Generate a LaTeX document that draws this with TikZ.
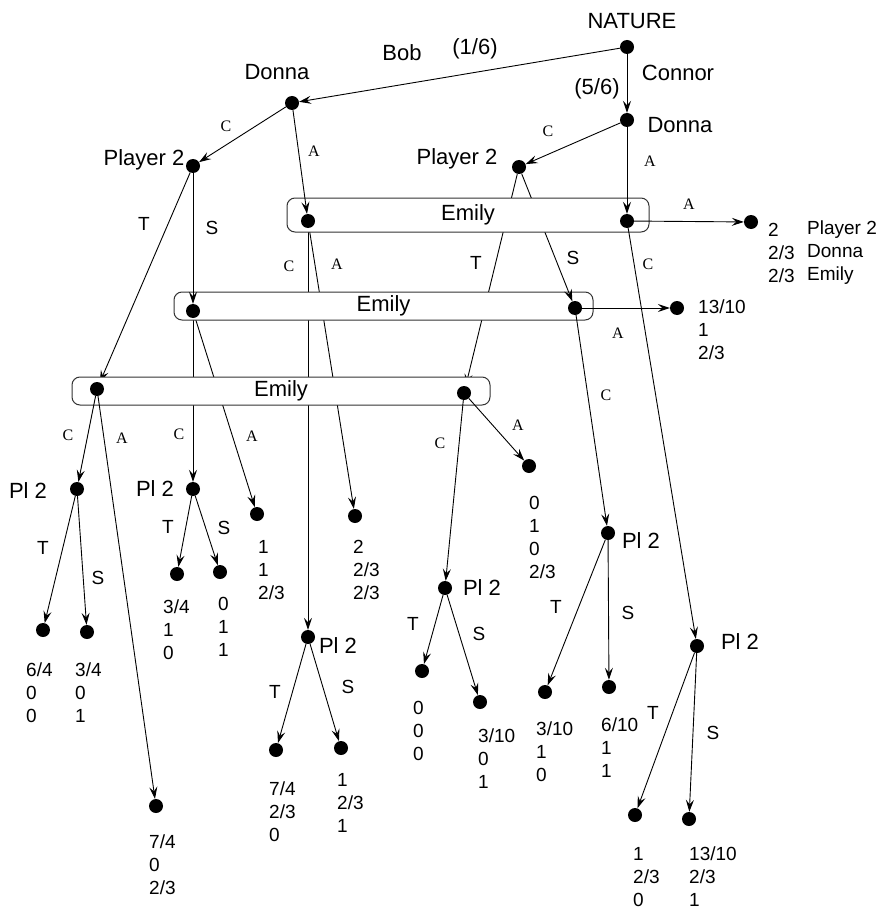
\documentclass[tikz,border=0pt]{standalone}
\usepackage{fontspec}
\setmainfont{Liberation Sans}
\newfontfamily\movefont{Liberation Serif}
\usetikzlibrary{arrows.meta}
\pgfdeclarelayer{low}
\pgfdeclarelayer{boxlow}
\pgfdeclarelayer{cross}
\pgfdeclarelayer{boxtop}
\pgfsetlayers{low,boxlow,cross,boxtop,main}
\tikzset{
  % Every decision point and every end point is the same black dot.
  dot/.style     = {circle, fill=black, inner sep=0pt, minimum size=14pt},
  tip/.style     = {-{Stealth[length=12pt, width=8pt, inset=4.5pt]},
                    line width=0.9pt},
  infoset/.style = {draw=black!80, fill=white, line width=1pt,
                    rounded corners=8pt, inner sep=0pt,
                    font=\fontsize{22}{26}\selectfont},
  who/.style     = {font=\fontsize{22}{26}\selectfont, inner sep=0pt,
                    text height=16pt, text depth=0pt},
  move/.style    = {font=\movefont\fontsize{16}{18}\selectfont, inner sep=0pt,
                    text height=10.5pt, text depth=0pt},
  choice/.style  = {font=\fontsize{19}{23}\selectfont, inner sep=0pt,
                    text height=14pt, text depth=0pt},
  payoff/.style  = {font=\fontsize{19}{23}\selectfont, align=left,
                    anchor=north west, inner sep=0pt},
}

\begin{document}
\begin{tikzpicture}[x=1pt, y=-1pt]
    \useasboundingbox (0,0) rectangle (883,912);

    % decision points
    \node[dot] (nature) at (627,47)  {};
    \node[dot] (donnaB) at (292,103) {};
    \node[dot] (donnaC) at (627,120) {};
    \node[dot] (ptwoB)  at (193,166) {};
    \node[dot] (ptwoC)  at (519,167) {};
    \node[dot] (emTB)   at (308,221) {};
    \node[dot] (emTC)   at (627,221) {};
    \node[dot] (emMB)   at (193,311) {};
    \node[dot] (emMC)   at (575,308) {};
    \node[dot] (emLB)   at (97,389)  {};
    \node[dot] (emLC)   at (464,393) {};
    \node[dot] (plA)    at (77,489)  {};
    \node[dot] (plB)    at (193,489) {};
    \node[dot] (plC)    at (308,637) {};
    \node[dot] (plD)    at (445,588) {};
    \node[dot] (plE)    at (608,533) {};
    \node[dot] (plF)    at (697,646) {};

    % end points
    \node[dot] (zTA)  at (751,222) {};
    \node[dot] (zMA)  at (677,308) {};
    \node[dot] (zTBa) at (355,516) {};
    \node[dot] (zMBa) at (257,514) {};
    \node[dot] (zLBa) at (156,806) {};
    \node[dot] (zLCa) at (529,466) {};
    \node[dot] (zAt)  at (43,630)  {};
    \node[dot] (zAs)  at (87,632)  {};
    \node[dot] (zBt)  at (177,574) {};
    \node[dot] (zBs)  at (220,572) {};
    \node[dot] (zCt)  at (276,750) {};
    \node[dot] (zCs)  at (341,748) {};
    \node[dot] (zDt)  at (422,671) {};
    \node[dot] (zDs)  at (480,702) {};
    \node[dot] (zEt)  at (545,692) {};
    \node[dot] (zEs)  at (609,687) {};
    \node[dot] (zFt)  at (635,815) {};
    \node[dot] (zFs)  at (689,819) {};

    % Emily's information sets hide the branches that only pass through them.
    \begin{pgfonlayer}{low}
        \draw[tip] (emTB)  -- (plC);
        \draw[tip] (emTB)  -- (zTBa);
        \draw[tip] (emMB)  -- (plB);
        \draw[tip] (emMB)  -- (zMBa);
        \draw[tip] (ptwoB) -- (emLB);
        \draw[tip] (ptwoC) -- (emLC);
    \end{pgfonlayer}
    \begin{pgfonlayer}{boxlow}
        \node[infoset, minimum width=418pt, minimum height=28pt]
            (isetL) at (281,391) {Emily};
        \node[infoset, minimum width=419pt, minimum height=28pt]
            (isetM) at (383.5,306) {Emily};
    \end{pgfonlayer}
    \begin{pgfonlayer}{cross}
        \draw[tip] (ptwoC) -- (emMC);
    \end{pgfonlayer}
    \begin{pgfonlayer}{boxtop}
        \node[infoset, minimum width=362pt, minimum height=34pt]
            (isetT) at (468,215) {Emily};
    \end{pgfonlayer}

    \draw[tip] (nature) -- (donnaB);
    \draw[tip] (nature) -- (donnaC);
    \draw[tip] (donnaB) -- (ptwoB);
    \draw[tip] (donnaB) -- (emTB);
    \draw[tip] (donnaC) -- (ptwoC);
    \draw[tip] (donnaC) -- (emTC);
    \draw[tip] (ptwoB)  -- (emMB);
    \draw[tip] (emTC)   -- (zTA);
    \draw[tip] (emTC)   -- (plF);
    \draw[tip] (emMC)   -- (zMA);
    \draw[tip] (emMC)   -- (plE);
    \draw[tip] (emLB)   -- (plA);
    \draw[tip] (emLB)   -- (zLBa);
    \draw[tip] (emLC)   -- (plD);
    \draw[tip] (emLC)   -- (zLCa);
    \draw[tip] (plA) -- (zAt);  \draw[tip] (plA) -- (zAs);
    \draw[tip] (plB) -- (zBt);  \draw[tip] (plB) -- (zBs);
    \draw[tip] (plC) -- (zCt);  \draw[tip] (plC) -- (zCs);
    \draw[tip] (plD) -- (zDt);  \draw[tip] (plD) -- (zDs);
    \draw[tip] (plE) -- (zEt);  \draw[tip] (plE) -- (zEs);
    \draw[tip] (plF) -- (zFt);  \draw[tip] (plF) -- (zFs);

    % players and chance
    \node[who] at (632,21)  {NATURE};
    \node[who] at (402,53)  {Bob};
    \node[who] at (475,47)  {(1/6)};
    \node[who] at (678,73)  {Connor};
    \node[who] at (597,87)  {(5/6)};
    \node[who] at (277,72)  {Donna};
    \node[who] at (680,125) {Donna};
    \node[who] at (144,158) {Player 2};
    \node[who] at (457,157) {Player 2};
    \node[who] at (28,490)  {Pl 2};
    \node[who] at (155,488) {Pl 2};
    \node[who] at (338,645) {Pl 2};
    \node[who] at (482,587) {Pl 2};
    \node[who] at (641,540) {Pl 2};
    \node[who] at (740,641) {Pl 2};

    % Donna and Emily: C or A
    \node[move] at (226,126) {C};  \node[move] at (314,151) {A};
    \node[move] at (548,131) {C};  \node[move] at (650,161) {A};
    \node[move] at (289,266) {C};  \node[move] at (337,264) {A};
    \node[move] at (648,264) {C};  \node[move] at (689,204) {A};
    \node[move] at (179,434) {C};  \node[move] at (252,436) {A};
    \node[move] at (606,395) {C};  \node[move] at (618,333) {A};
    \node[move] at (68,435)  {C};  \node[move] at (122,438) {A};
    \node[move] at (440,443) {C};  \node[move] at (518,425) {A};

    % Player 2: T or S
    \node[choice] at (144,223) {T};  \node[choice] at (212,227) {S};
    \node[choice] at (476,262) {T};  \node[choice] at (573,257) {S};
    \node[choice] at (43,547)  {T};  \node[choice] at (98,577)  {S};
    \node[choice] at (168,526) {T};  \node[choice] at (224,527) {S};
    \node[choice] at (275,691) {T};  \node[choice] at (348,686) {S};
    \node[choice] at (413,623) {T};  \node[choice] at (479,633) {S};
    \node[choice] at (556,606) {T};  \node[choice] at (628,612) {S};
    \node[choice] at (653,712) {T};  \node[choice] at (713,732) {S};

    % payoffs: Player 2, Donna, Emily
    \node[payoff] at (768,223) {2\\2/3\\2/3};
    \node[payoff] at (807,221) {Player 2\\Donna\\Emily};
    \node[payoff] at (698,300) {13/10\\1\\2/3};
    \node[payoff] at (258,540) {1\\1\\2/3};
    \node[payoff] at (353,540) {2\\2/3\\2/3};
    \node[payoff] at (26,663)  {6/4\\0\\0};
    \node[payoff] at (75,663)  {3/4\\0\\1};
    \node[payoff] at (163,600) {3/4\\1\\0};
    \node[payoff] at (218,597) {0\\1\\1};
    \node[payoff] at (269,782) {7/4\\2/3\\0};
    \node[payoff] at (337,773) {1\\2/3\\1};
    \node[payoff] at (149,835) {7/4\\0\\2/3};
    \node[payoff] at (413,701) {0\\0\\0};
    \node[payoff] at (478,729) {3/10\\0\\1};
    \node[payoff] at (529,496) {0\\1\\0\\2/3};
    \node[payoff] at (536,722) {3/10\\1\\0};
    \node[payoff] at (601,718) {6/10\\1\\1};
    \node[payoff] at (633,847) {1\\2/3\\0};
    \node[payoff] at (689,847) {13/10\\2/3\\1};
\end{tikzpicture}
\end{document}
